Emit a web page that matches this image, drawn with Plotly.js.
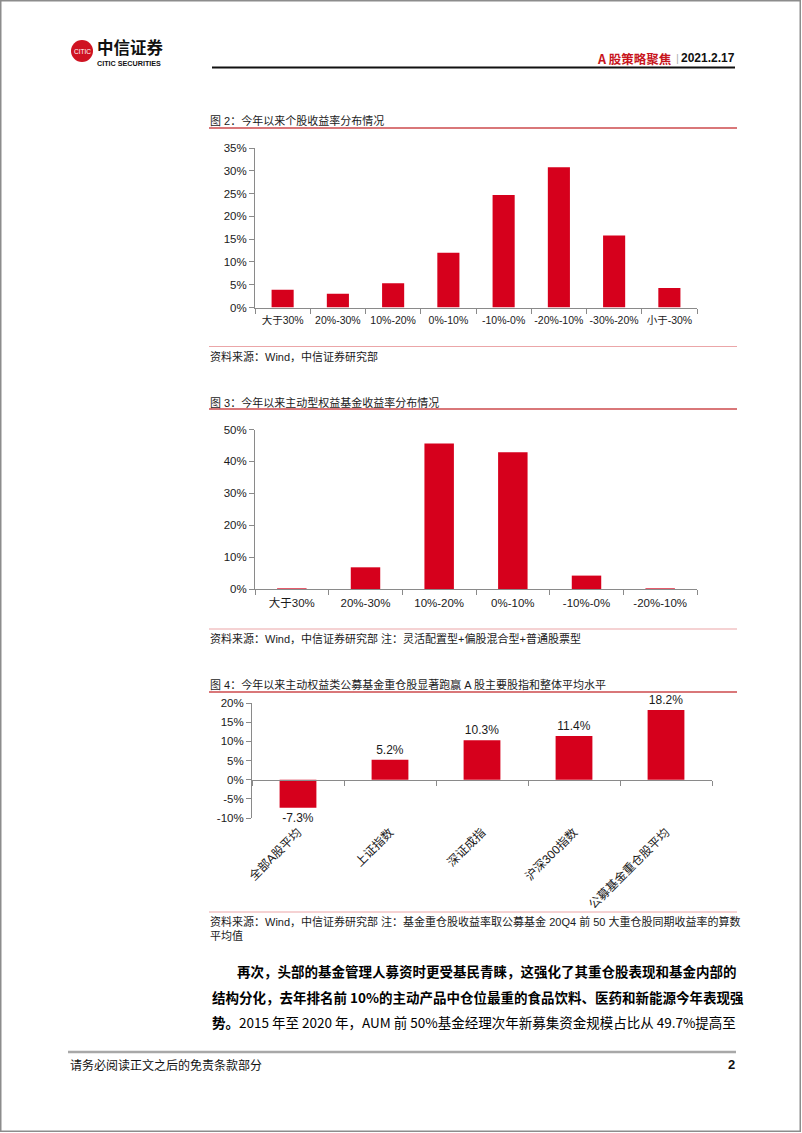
<!DOCTYPE html>
<html>
<head>
<meta charset="utf-8">
<script src="https://cdn.plot.ly/plotly-3.0.1.min.js"></script>
<style>
  html, body { margin: 0; padding: 0; background: #fff; }
  #chart { width: 802px; height: 1133px; }
</style>
</head>
<body>
<div id="chart"></div>
<script>
// ---------- data ----------
const cats2 = ['大于30%', '20%-30%', '10%-20%', '0%-10%', '-10%-0%', '-20%-10%', '-30%-20%', '小于-30%'];
const vals2 = [3.9, 3.0, 5.3, 12.0, 24.7, 30.8, 15.8, 4.3];
const yTicks2 = [0, 5, 10, 15, 20, 25, 30, 35];

const cats3 = ['大于30%', '20%-30%', '10%-20%', '0%-10%', '-10%-0%', '-20%-10%'];
const vals3 = [0.2, 6.8, 45.6, 42.9, 4.2, 0.2];
const yTicks3 = [0, 10, 20, 30, 40, 50];

const cats4 = ['全部A股平均', '上证指数', '深证成指', '沪深300指数', '公募基金重仓股平均'];
const vals4 = [-7.3, 5.2, 10.3, 11.4, 18.2];
const yTicks4 = [-10, -5, 0, 5, 10, 15, 20];

const title2 = '图 2：今年以来个股收益率分布情况';
const title3 = '图 3：今年以来主动型权益基金收益率分布情况';
const title4 = '图 4：今年以来主动权益类公募基金重仓股显著跑赢 A 股主要股指和整体平均水平';
const source2 = '资料来源：Wind，中信证券研究部';
const source3 = '资料来源：Wind，中信证券研究部 注：灵活配置型+偏股混合型+普通股票型';
const source4a = '资料来源：Wind，中信证券研究部 注：基金重仓股收益率取公募基金 20Q4 前 50 大重仓股同期收益率的算数';
const source4b = '平均值';
const bodyLines = [
  '<b>再次，头部的基金管理人募资时更受基民青睐，这强化了其重仓股表现和基金内部的</b>',
  '<b>结构分化，去年排名前 10%的主动产品中仓位最重的食品饮料、医药和新能源今年表现强</b>',
  '<b>势。</b>2015 年至 2020 年，AUM 前 50%基金经理次年新募集资金规模占比从 49.7%提高至'
];

// ---------- helpers ----------
const W = 802, H = 1133;
const X = px => px / W;
const Y = py => 1 - py / H;
const pct = v => v + '%';
const RED = '#d6001c';
const AX = '#8a8a8a';
const LAT = 'Liberation Sans, Arial, Noto Sans CJK SC, sans-serif';
const CJK = 'Noto Sans CJK SC, Liberation Sans, sans-serif';
const NARROW = 'Liberation Sans Narrow, Noto Sans CJK SC, sans-serif';
const TXT = '#1a1a1a';

function ann(text, x, y, o = {}) {
  return Object.assign({
    text: text, xref: 'paper', yref: 'paper', x: X(x), y: Y(y),
    xanchor: 'left', yanchor: 'middle', align: 'left', showarrow: false,
    borderpad: 0, borderwidth: 0,
    font: { family: LAT, size: 11, color: TXT }
  }, o);
}
function hline(x0, x1, y, color, width) {
  return { type: 'line', xref: 'paper', yref: 'paper', x0: X(x0), x1: X(x1), y0: Y(y), y1: Y(y),
           line: { color: color, width: width } };
}

// ---------- traces ----------
const data = [
  { type: 'bar', x: cats2, y: vals2, xaxis: 'x', yaxis: 'y', marker: { color: RED }, hoverinfo: 'skip' },
  { type: 'bar', x: cats3, y: vals3, xaxis: 'x2', yaxis: 'y2', marker: { color: RED }, hoverinfo: 'skip' },
  { type: 'bar', x: cats4, y: vals4, xaxis: 'x3', yaxis: 'y3', marker: { color: RED }, hoverinfo: 'skip',
    text: vals4.map(v => v.toFixed(1) + '%'), textposition: 'outside', cliponaxis: false,
    textfont: { family: LAT, size: 12, color: TXT } },
  { type: 'scatter', mode: 'markers', x: cats4, y: vals4, xaxis: 'x4', yaxis: 'y3',
    marker: { opacity: 0, size: 1 }, hoverinfo: 'skip' }
];

// ---------- axes ----------
const baseX = {
  type: 'category', showline: true, linecolor: AX, linewidth: 1,
  ticks: 'outside', tickson: 'boundaries', ticklen: 5, tickcolor: AX, tickwidth: 1,
  showgrid: false, zeroline: false, fixedrange: true, tickangle: 0, ticklabelstandoff: 3,
  tickfont: { family: LAT, size: 11, color: TXT }
};
const baseY = {
  showline: true, linecolor: AX, linewidth: 1, ticks: 'outside', ticklen: 5, tickcolor: AX,
  showgrid: false, zeroline: false, fixedrange: true,
  tickfont: { family: LAT, size: 11.5, color: TXT }
};

const y3dom = [Y(818), Y(703)];
const y3range = [-10, 20];
const zeroPos = y3dom[0] + (0 - y3range[0]) / (y3range[1] - y3range[0]) * (y3dom[1] - y3dom[0]);

const layout = {
  width: W, height: H,
  margin: { l: 0, r: 0, t: 0, b: 0 },
  paper_bgcolor: '#ffffff', plot_bgcolor: 'rgba(0,0,0,0)',
  showlegend: false, bargap: 0.6,
  font: { family: LAT, size: 11, color: TXT },

  xaxis: Object.assign({}, baseX, { domain: [X(255), X(697)], anchor: 'y', categoryarray: cats2,
    tickfont: { family: LAT, size: 10.5, color: TXT } }),
  yaxis: Object.assign({}, baseY, { domain: [Y(307.5), Y(148)], anchor: 'x', range: [0, 35],
    tickvals: yTicks2, ticktext: yTicks2.map(pct) }),

  xaxis2: Object.assign({}, baseX, { domain: [X(255), X(697)], anchor: 'y2', categoryarray: cats3,
    tickfont: { family: LAT, size: 11.5, color: TXT } }),
  yaxis2: Object.assign({}, baseY, { domain: [Y(589), Y(429.5)], anchor: 'x2', range: [0, 50],
    tickvals: yTicks3, ticktext: yTicks3.map(pct) }),

  xaxis3: Object.assign({}, baseX, { domain: [X(252), X(712)], anchor: 'y3', categoryarray: cats4,
    range: [-0.5, cats4.length - 0.5], showline: false, ticks: '', tickangle: -45, ticklabelstandoff: 4,
    tickfont: { family: LAT, size: 12, color: TXT } }),
  yaxis3: Object.assign({}, baseY, { domain: y3dom, anchor: 'x3', range: y3range,
    tickvals: yTicks4, ticktext: yTicks4.map(pct) }),
  xaxis4: Object.assign({}, baseX, { overlaying: 'x3', anchor: 'free', position: zeroPos,
    categoryarray: cats4, range: [-0.5, cats4.length - 0.5], showticklabels: false }),

  shapes: [
    // page border
    { type: 'rect', xref: 'paper', yref: 'paper', x0: X(0.75), x1: X(800.25), y0: Y(1131.25), y1: Y(0.75),
      line: { color: '#8c8c8c', width: 1.5 } },
    // header
    hline(212, 735, 67.5, '#111111', 2),
    { type: 'circle', xref: 'paper', yref: 'paper', x0: X(71), x1: X(93), y0: Y(62), y1: Y(40),
      fillcolor: '#cf1322', line: { color: '#cf1322', width: 0 } },
    // figure title rules
    hline(209, 737, 128, '#cc4a4d', 1.5),
    hline(209, 737, 409, '#cc4a4d', 1.5),
    hline(209, 737, 692, '#cc4a4d', 1.5),
    // source rules
    hline(209, 737, 346.5, '#eba6a8', 1.2),
    hline(209, 737, 629, '#eba6a8', 1.2),
    hline(209, 737, 912, '#eba6a8', 1.2),
    // footer rule
    hline(68, 736, 1052, '#a8a8a8', 2.5)
  ],

  annotations: [
    // 0-2 body lines (justified later)
    ann(bodyLines[0], 237, 971, { font: { family: NARROW, size: 13.5, color: '#000' } }),
    ann(bodyLines[1], 212, 997, { font: { family: NARROW, size: 13.5, color: '#000' } }),
    ann(bodyLines[2], 212, 1022, { font: { family: NARROW, size: 13.5, color: '#000' } }),
    // header
    ann('CITIC', 82, 51, { xanchor: 'center', font: { family: LAT, size: 6.5, color: '#ffffff' } }),
    ann('<b>中信证券</b>', 97, 46.5, { font: { family: CJK, size: 16.5, color: '#111' } }),
    ann('<b>CITIC SECURITIES</b>', 97, 63, { font: { family: LAT, size: 7.2, color: '#111' } }),
    ann('<b>A 股策略聚焦</b>', 672, 58, { xanchor: 'right', font: { family: CJK, size: 12.5, color: '#c8161d' } }),
    ann('|', 677, 58, { xanchor: 'center', font: { family: LAT, size: 11, color: '#b0b0b0' } }),
    ann('<b>2021.2.17</b>', 735, 58, { xanchor: 'right', font: { family: LAT, size: 12, color: '#111' } }),
    // titles
    ann(title2, 210, 121, { font: { family: LAT, size: 11, color: TXT } }),
    ann(title3, 210, 402, { font: { family: LAT, size: 11, color: TXT } }),
    ann(title4, 210, 684, { font: { family: LAT, size: 11, color: TXT } }),
    // sources
    ann(source2, 210, 356, { font: { family: LAT, size: 11, color: TXT } }),
    ann(source3, 210, 638, { font: { family: LAT, size: 11, color: TXT } }),
    ann(source4a, 210, 921, { font: { family: LAT, size: 11, color: TXT } }),
    ann(source4b, 210, 936, { font: { family: LAT, size: 11, color: TXT } }),
    // footer
    ann('请务必阅读正文之后的免责条款部分', 70, 1064, { font: { family: CJK, size: 12, color: '#111' } }),
    ann('<b>2</b>', 735, 1064, { xanchor: 'right', font: { family: LAT, size: 13, color: '#111' } })
  ]
};

const justify = [
  { i: 0, w: 735 - 237 },
  { i: 1, w: 735 - 212 },
  { i: 2, w: 735 - 212 },
  { i: 14, w: 735 - 210 }
];

Plotly.newPlot('chart', data, layout, { staticPlot: true, displayModeBar: false }).then(gd => {
  justify.forEach(({ i, w }) => {
    const t = gd.querySelector('.annotation[data-index="' + i + '"] text');
    if (!t) return;
    const len = t.getComputedTextLength();
    const n = t.textContent.length;
    if (n > 1 && len < w) t.setAttribute('letter-spacing', ((w - len) / (n - 1)).toFixed(3));
  });
});
</script>
</body>
</html>
